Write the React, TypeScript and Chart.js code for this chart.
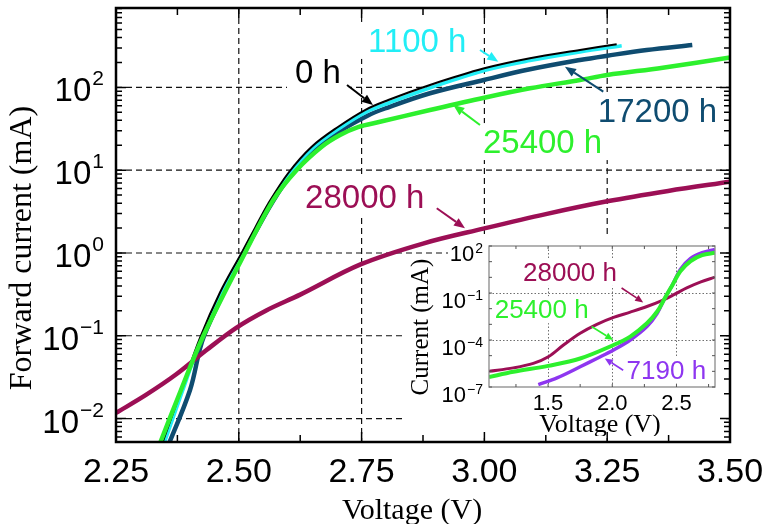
import React, { useEffect, useRef } from 'react';
import { Chart, registerables } from 'chart.js';

Chart.register(...registerables);

// ================= MAIN CHART DATA (voltage V, forward current mA) =================
const V_0H = [2.3386, 2.3823, 2.4210, 2.4617, 2.5059, 2.5330, 2.5601, 2.6008, 2.6484, 2.7026, 2.7569, 2.8044, 2.8892, 2.9998, 3.0928, 3.1946, 3.2693];
const I_0H = [0.00406, 0.02154, 0.0940, 0.3334, 1.008, 2.004, 3.962, 9.25, 19.2, 33.5, 53.3, 70.4, 107, 170, 225, 283, 332];

const V_1100H = [2.3426, 2.3854, 2.4241, 2.4648, 2.5085, 2.5360, 2.5635, 2.6042, 2.6521, 2.7060, 2.7600, 2.8078, 2.8913, 2.9998, 3.0928, 3.1946, 3.2795];
const I_1100H = [0.00406, 0.02154, 0.0940, 0.3334, 1.008, 2.004, 3.962, 9.25, 18.8, 32.3, 50.5, 65.7, 99.7, 160, 211, 268, 319];

const V_17200H = [2.3518, 2.4007, 2.4292, 2.5106, 2.5381, 2.5656, 2.6063, 2.6531, 2.7081, 2.7630, 2.7976, 2.8892, 2.9988, 3.0928, 3.1946, 3.2502, 3.3304, 3.4232];
const I_17200H = [0.00406, 0.02215, 0.0995, 1.0, 1.976, 3.853, 8.875, 17.78, 30.2, 45.8, 55.6, 84.9, 122.9, 165.4, 214.2, 241.5, 283, 325];

const V_25400H = [2.3335, 2.3823, 2.4277, 2.5126, 2.5702, 2.6179, 2.6688, 2.7060, 2.7427, 2.7875, 2.8892, 2.9998, 3.0928, 3.1946, 3.2502, 3.3632, 3.5000];
const I_25400H = [0.00406, 0.02215, 0.0995, 1.0, 4.37, 10.06, 19.2, 26.6, 33.2, 38.4, 53.3, 75.1, 97.5, 122.9, 141.2, 173, 229.6];

const V_28000H = [2.250, 2.311, 2.372, 2.433, 2.494, 2.555, 2.625, 2.749, 2.875, 3.000, 3.125, 3.250, 3.374, 3.500];
const I_28000H = [0.0117, 0.0193, 0.034, 0.0663, 0.124, 0.201, 0.314, 0.732, 1.30, 1.98, 2.95, 4.21, 5.62, 7.26];

// main axes
const MAIN_X_MIN = 2.25;
const MAIN_X_MAX = 3.5;
const MAIN_Y_MIN = 0.00521;
const MAIN_Y_MAX = 910;
const MAIN_X_TICKS = [2.25, 2.5, 2.75, 3.0, 3.25, 3.5];
const MAIN_X_TICK_LABELS = ['2.25', '2.50', '2.75', '3.00', '3.25', '3.50'];
const MAIN_X_MINOR = [2.375, 2.625, 2.875, 3.125, 3.375];
const MAIN_X_GRID = [2.5, 2.75, 3.0, 3.25];
const MAIN_Y_TICKS = [0.01, 0.1, 1, 10, 100];
const MAIN_Y_EXP_LABELS = ['\u22122', '\u22121', '0', '1', '2'];
const MAIN_Y_GRID = [0.01, 0.1, 1, 10, 100];

// main annotations (text anchor = left/baseline, in data coordinates)
const MAIN_LABEL_TEXT = ['0 h', '1100 h', '17200 h', '25400 h', '28000 h'];
const MAIN_LABEL_V = [2.6144, 2.763, 3.231, 2.997, 2.635];
const MAIN_LABEL_I = [113, 268, 38.2, 16.1, 3.5];
const MAIN_ARROW_FROM_V = [2.7203, 2.991, 3.242, 2.991, 2.903];
const MAIN_ARROW_FROM_I = [107, 283, 88.7, 35.2, 3.47];
const MAIN_ARROW_TO_V = [2.7732, 3.0283, 3.164, 2.9367, 2.9605];
const MAIN_ARROW_TO_I = [61.3, 204, 178, 61.3, 1.99];

// ================= INSET DATA =================
const V_IN_28000H = [1.04, 1.229, 1.385, 1.502, 1.62, 1.75, 1.88, 2.01, 2.14, 2.27, 2.40, 2.48, 2.58, 2.69, 2.80];
const I_IN_28000H = [1.0e-6, 1.66e-6, 3.2e-6, 8.5e-6, 4.8e-5, 2.7e-4, 1.0e-3, 2.75e-3, 6.0e-3, 0.0138, 0.037, 0.078, 0.21, 0.51, 1.02];

const V_IN_25400H = [1.04, 1.23, 1.5, 1.75, 2.01, 2.14, 2.27, 2.35, 2.41, 2.47, 2.53, 2.61, 2.70, 2.80];
const I_IN_25400H = [4.3e-7, 9.3e-7, 2.24e-6, 6.6e-6, 4.8e-5, 1.66e-4, 1.17e-3, 6.6e-3, 0.048, 0.34, 2.45, 11, 26, 37];

const V_IN_7190H = [1.424, 1.57, 1.75, 1.88, 2.01, 2.14, 2.27, 2.35, 2.41, 2.47, 2.53, 2.61, 2.70, 2.80];
const I_IN_7190H = [1.4e-7, 3.8e-7, 1.95e-6, 6.6e-6, 2.3e-5, 1.0e-4, 7.2e-4, 5.1e-3, 0.048, 0.34, 3.2, 16, 37, 60];

const IN_X_MIN = 1.04;
const IN_X_MAX = 2.80;
const IN_Y_MIN = 1e-7;
const IN_Y_MAX = 1e2;
const IN_X_TICKS = [1.5, 2.0, 2.5];
const IN_X_TICK_LABELS = ['1.5', '2.0', '2.5'];
const IN_X_MINOR = [1.25, 1.5, 1.75, 2.0, 2.25, 2.5, 2.75];
const IN_X_GRID = [1.5, 2.0, 2.5];
const IN_Y_TICKS = [1e-7, 1e-4, 1e-1, 1e2];
const IN_Y_EXP_LABELS = ['\u22127', '\u22124', '\u22121', '2'];
const IN_Y_GRID = [1e-4, 1e-1];

const IN_LABEL_TEXT = ['28000 h', '25400 h', '7190 h'];
const IN_LABEL_V = [1.305, 1.0842, 2.1116];
const IN_LABEL_I = [0.59, 2.47e-3, 3.44e-7];
const IN_ARROW_FROM_V = [2.0726, 1.8385, 2.085];
const IN_ARROW_FROM_I = [0.209, 7.24e-4, 1.18e-6];
const IN_ARROW_TO_V = [2.241, 2.007, 1.942];
const IN_ARROW_TO_I = [0.0252, 9.98e-5, 6.65e-6];

// ================= STYLES =================
const C_BLACK = '#000000';
const C_CYAN = '#22EEF6';
const C_BLUE = '#0F4C70';
const C_GREEN = '#2DF02D';
const C_MAROON = '#9C0F55';
const C_PURPLE = '#8E36F0';
const MAIN_LABEL_COLORS = [C_BLACK, C_CYAN, C_BLUE, C_GREEN, C_MAROON];
const IN_LABEL_COLORS = [C_MAROON, C_GREEN, C_PURPLE];

const SANS = '"Liberation Sans", Arial, sans-serif';
const SERIF = '"Liberation Serif", "Times New Roman", serif';

const W = 763;
const H = 524;
const INSET_LEFT = 405;
const INSET_TOP = 236;
const INSET_W = 317;
const INSET_H = 200;

const pts = (vs: number[], is: number[]) => vs.map((v, k) => ({ x: v, y: is[k] }));

function drawArrow(ctx: CanvasRenderingContext2D, x1: number, y1: number, x2: number, y2: number, color: string, lw: number, head: number, hw: number) {
  const ang = Math.atan2(y2 - y1, x2 - x1);
  const bx = x2 - head * Math.cos(ang);
  const by = y2 - head * Math.sin(ang);
  ctx.strokeStyle = color;
  ctx.fillStyle = color;
  ctx.lineWidth = lw;
  ctx.setLineDash([]);
  ctx.beginPath();
  ctx.moveTo(x1, y1);
  ctx.lineTo(bx, by);
  ctx.stroke();
  ctx.beginPath();
  ctx.moveTo(x2, y2);
  ctx.lineTo(bx + hw * Math.sin(ang), by - hw * Math.cos(ang));
  ctx.lineTo(bx - hw * Math.sin(ang), by + hw * Math.cos(ang));
  ctx.closePath();
  ctx.fill();
}

function drawPow(ctx: CanvasRenderingContext2D, xRight: number, baseY: number, supY: number, exp: string, big: string, small: string) {
  ctx.font = small;
  const w2 = ctx.measureText(exp).width;
  ctx.font = big;
  const w1 = ctx.measureText('10').width;
  const x0 = xRight - w1 - w2 - 1;
  ctx.textAlign = 'left';
  ctx.textBaseline = 'alphabetic';
  ctx.fillText('10', x0, baseY);
  ctx.font = small;
  ctx.fillText(exp, x0 + w1 + 1, supY);
}

const MAIN_LABEL_FONT = `33px ${SANS}`;
const IN_LABEL_FONT = `26px ${SANS}`;

const mainPlugin = {
  id: 'mainDeco',
  beforeDatasetsDraw(chart: any) {
    const { ctx, chartArea: a, scales } = chart;
    const x = scales.x;
    const y = scales.y;
    ctx.save();
    ctx.strokeStyle = '#111';
    ctx.lineWidth = 1.2;
    ctx.setLineDash([6, 4]);
    MAIN_X_GRID.forEach((v) => {
      const px = x.getPixelForValue(v);
      ctx.beginPath();
      ctx.moveTo(px, a.top);
      ctx.lineTo(px, a.bottom);
      ctx.stroke();
    });
    MAIN_Y_GRID.forEach((v) => {
      const py = y.getPixelForValue(v);
      ctx.beginPath();
      ctx.moveTo(a.left, py);
      ctx.lineTo(a.right, py);
      ctx.stroke();
    });
    ctx.setLineDash([]);
    // white area behind inset
    ctx.fillStyle = '#fff';
    ctx.fillRect(INSET_LEFT + 43, INSET_TOP + 2, INSET_W - 43, INSET_H - 4);
    ctx.fillRect(INSET_LEFT - 1, INSET_TOP + 26, 45, INSET_H - 28);
    // label boxes
    ctx.font = MAIN_LABEL_FONT;
    MAIN_LABEL_TEXT.forEach((t, k) => {
      const px = x.getPixelForValue(MAIN_LABEL_V[k]);
      const py = y.getPixelForValue(MAIN_LABEL_I[k]);
      const w = ctx.measureText(t).width;
      ctx.fillRect(px - 8, py - 30, w + 16, 37);
    });
    ctx.restore();
  },
  afterDatasetsDraw(chart: any) {
    const { ctx, chartArea: a, scales } = chart;
    const x = scales.x;
    const y = scales.y;
    ctx.save();
    // frame
    ctx.strokeStyle = '#000';
    ctx.lineWidth = 2.5;
    ctx.strokeRect(a.left, a.top, a.right - a.left, a.bottom - a.top);
    // y ticks (log minor)
    ctx.lineWidth = 1.5;
    for (let e = -3; e <= 3; e++) {
      for (let m = 1; m <= 9; m++) {
        const v = m * Math.pow(10, e);
        if (v < MAIN_Y_MIN || v > MAIN_Y_MAX) continue;
        const py = y.getPixelForValue(v);
        const len = m === 1 ? 10 : 6;
        ctx.beginPath();
        ctx.moveTo(a.left, py);
        ctx.lineTo(a.left + len, py);
        ctx.moveTo(a.right, py);
        ctx.lineTo(a.right - len, py);
        ctx.stroke();
      }
    }
    // x ticks
    [...MAIN_X_TICKS, ...MAIN_X_MINOR].forEach((v, k) => {
      const px = x.getPixelForValue(v);
      const len = k < MAIN_X_TICKS.length ? 10 : 7;
      ctx.beginPath();
      ctx.moveTo(px, a.top);
      ctx.lineTo(px, a.top + len);
      ctx.moveTo(px, a.bottom);
      ctx.lineTo(px, a.bottom - len);
      ctx.stroke();
    });
    // tick labels
    ctx.fillStyle = '#000';
    ctx.font = `34px ${SANS}`;
    ctx.textAlign = 'center';
    ctx.textBaseline = 'alphabetic';
    MAIN_X_TICKS.forEach((v, k) => {
      ctx.fillText(MAIN_X_TICK_LABELS[k], x.getPixelForValue(v), a.bottom + 40);
    });
    MAIN_Y_TICKS.forEach((v, k) => {
      const py = y.getPixelForValue(v);
      drawPow(ctx, a.left - 12, py + 14, py - 2, MAIN_Y_EXP_LABELS[k], `33px ${SANS}`, `21px ${SANS}`);
    });
    // axis titles
    ctx.font = `30px ${SERIF}`;
    ctx.textAlign = 'center';
    ctx.fillText('Voltage (V)', 412, 519);
    ctx.save();
    ctx.font = `32px ${SERIF}`;
    ctx.translate(31, 248);
    ctx.rotate(-Math.PI / 2);
    ctx.fillText('Forward current (mA)', 0, 0);
    ctx.restore();
    // annotations
    ctx.font = MAIN_LABEL_FONT;
    ctx.textAlign = 'left';
    MAIN_LABEL_TEXT.forEach((t, k) => {
      const col = MAIN_LABEL_COLORS[k];
      ctx.fillStyle = col;
      ctx.fillText(t, x.getPixelForValue(MAIN_LABEL_V[k]), y.getPixelForValue(MAIN_LABEL_I[k]));
      drawArrow(
        ctx,
        x.getPixelForValue(MAIN_ARROW_FROM_V[k]), y.getPixelForValue(MAIN_ARROW_FROM_I[k]),
        x.getPixelForValue(MAIN_ARROW_TO_V[k]), y.getPixelForValue(MAIN_ARROW_TO_I[k]),
        col, 2, 11, 4.5,
      );
    });
    ctx.restore();
  },
};

const insetPlugin = {
  id: 'insetDeco',
  beforeDatasetsDraw(chart: any) {
    const { ctx, chartArea: a, scales } = chart;
    const x = scales.x;
    const y = scales.y;
    ctx.save();
    ctx.fillStyle = '#fff';
    ctx.fillRect(a.left, a.top, a.right - a.left, a.bottom - a.top);
    ctx.strokeStyle = '#6f6f6f';
    ctx.lineWidth = 1;
    ctx.setLineDash([1.5, 2]);
    IN_X_GRID.forEach((v) => {
      const px = Math.round(x.getPixelForValue(v)) + 0.5;
      ctx.beginPath();
      ctx.moveTo(px, a.top);
      ctx.lineTo(px, a.bottom);
      ctx.stroke();
    });
    IN_Y_GRID.forEach((v) => {
      const py = Math.round(y.getPixelForValue(v)) + 0.5;
      ctx.beginPath();
      ctx.moveTo(a.left, py);
      ctx.lineTo(a.right, py);
      ctx.stroke();
    });
    ctx.setLineDash([]);
    ctx.font = IN_LABEL_FONT;
    ctx.fillStyle = '#fff';
    IN_LABEL_TEXT.forEach((t, k) => {
      const px = x.getPixelForValue(IN_LABEL_V[k]);
      const py = y.getPixelForValue(IN_LABEL_I[k]);
      const w = ctx.measureText(t).width;
      ctx.fillRect(px - 3, py - 22, w + 6, 27);
    });
    ctx.restore();
  },
  afterDatasetsDraw(chart: any) {
    const { ctx, chartArea: a, scales } = chart;
    const x = scales.x;
    const y = scales.y;
    ctx.save();
    ctx.strokeStyle = '#8a8a8a';
    ctx.lineWidth = 1.3;
    ctx.strokeRect(a.left, a.top, a.right - a.left, a.bottom - a.top);
    ctx.lineWidth = 1;
    ctx.strokeStyle = '#555';
    IN_X_MINOR.forEach((v) => {
      const px = x.getPixelForValue(v);
      ctx.beginPath();
      ctx.moveTo(px, a.top);
      ctx.lineTo(px, a.top + 3);
      ctx.moveTo(px, a.bottom);
      ctx.lineTo(px, a.bottom - 3);
      ctx.stroke();
    });
    for (let e = -7; e <= 2; e++) {
      const py = y.getPixelForValue(Math.pow(10, e));
      ctx.beginPath();
      ctx.moveTo(a.left, py);
      ctx.lineTo(a.left + 3, py);
      ctx.moveTo(a.right, py);
      ctx.lineTo(a.right - 3, py);
      ctx.stroke();
    }
    ctx.fillStyle = '#000';
    ctx.font = `22px ${SANS}`;
    ctx.textAlign = 'center';
    ctx.textBaseline = 'alphabetic';
    IN_X_TICKS.forEach((v, k) => {
      ctx.fillText(IN_X_TICK_LABELS[k], x.getPixelForValue(v), a.bottom + 23);
    });
    IN_Y_TICKS.forEach((v, k) => {
      const py = y.getPixelForValue(v);
      drawPow(ctx, a.left - 6, py + 14.5, py + 6.5, IN_Y_EXP_LABELS[k], `22px ${SANS}`, `14px ${SANS}`);
    });
    ctx.font = `26px ${SERIF}`;
    ctx.textAlign = 'center';
    ctx.fillText('Voltage (V)', 600 - INSET_LEFT, 432 - INSET_TOP);
    ctx.save();
    ctx.font = `25px ${SERIF}`;
    ctx.translate(428 - INSET_LEFT, 327 - INSET_TOP);
    ctx.rotate(-Math.PI / 2);
    ctx.fillText('Current (mA)', 0, 0);
    ctx.restore();
    ctx.font = IN_LABEL_FONT;
    ctx.textAlign = 'left';
    IN_LABEL_TEXT.forEach((t, k) => {
      const col = IN_LABEL_COLORS[k];
      ctx.fillStyle = col;
      ctx.fillText(t, x.getPixelForValue(IN_LABEL_V[k]), y.getPixelForValue(IN_LABEL_I[k]));
      drawArrow(
        ctx,
        x.getPixelForValue(IN_ARROW_FROM_V[k]), y.getPixelForValue(IN_ARROW_FROM_I[k]),
        x.getPixelForValue(IN_ARROW_TO_V[k]), y.getPixelForValue(IN_ARROW_TO_I[k]),
        col, 1.6, 8, 3.5,
      );
    });
    ctx.restore();
  },
};

const line = (data: { x: number; y: number }[], color: string, width: number) => ({
  data,
  borderColor: color,
  backgroundColor: color,
  borderWidth: width,
  pointRadius: 0,
  fill: false,
  tension: 0.35,
  borderJoinStyle: 'round' as const,
});

export default function App() {
  const mainRef = useRef<HTMLCanvasElement>(null);
  const insetRef = useRef<HTMLCanvasElement>(null);

  useEffect(() => {
    document.body.style.margin = '0';
    const main = new Chart(mainRef.current as HTMLCanvasElement, {
      type: 'line',
      data: {
        datasets: [
          line(pts(V_25400H, I_25400H), C_GREEN, 4.5),
          line(pts(V_28000H, I_28000H), C_MAROON, 4.5),
          line(pts(V_0H, I_0H), C_BLACK, 2),
          line(pts(V_1100H, I_1100H), C_CYAN, 3.5),
          line(pts(V_17200H, I_17200H), C_BLUE, 4.5),
        ],
      },
      options: {
        responsive: false,
        animation: false,
        devicePixelRatio: 1,
        events: [],
        layout: { padding: { left: 116, top: 8, right: 33, bottom: 82 } },
        plugins: { legend: { display: false }, tooltip: { enabled: false } },
        scales: {
          x: { type: 'linear', min: MAIN_X_MIN, max: MAIN_X_MAX, display: false },
          y: { type: 'logarithmic', min: MAIN_Y_MIN, max: MAIN_Y_MAX, display: false },
        },
      },
      plugins: [mainPlugin],
    } as any);

    const inset = new Chart(insetRef.current as HTMLCanvasElement, {
      type: 'line',
      data: {
        datasets: [
          line(pts(V_IN_25400H, I_IN_25400H), C_GREEN, 4),
          line(pts(V_IN_7190H, I_IN_7190H), C_PURPLE, 3.5),
          line(pts(V_IN_28000H, I_IN_28000H), C_MAROON, 3),
        ],
      },
      options: {
        responsive: false,
        animation: false,
        devicePixelRatio: 1,
        events: [],
        layout: { padding: { left: 84, top: 10, right: 7, bottom: 49 } },
        plugins: { legend: { display: false }, tooltip: { enabled: false } },
        scales: {
          x: { type: 'linear', min: IN_X_MIN, max: IN_X_MAX, display: false },
          y: { type: 'logarithmic', min: IN_Y_MIN, max: IN_Y_MAX, display: false },
        },
      },
      plugins: [insetPlugin],
    } as any);

    return () => {
      main.destroy();
      inset.destroy();
    };
  }, []);

  return (
    <div style={{ position: 'absolute', left: 0, top: 0, width: W, height: H, background: '#fff', overflow: 'hidden' }}>
      <canvas ref={mainRef} width={W} height={H} style={{ position: 'absolute', left: 0, top: 0, width: W, height: H }} />
      <canvas
        ref={insetRef}
        width={INSET_W}
        height={INSET_H}
        style={{ position: 'absolute', left: INSET_LEFT, top: INSET_TOP, width: INSET_W, height: INSET_H }}
      />
    </div>
  );
}
